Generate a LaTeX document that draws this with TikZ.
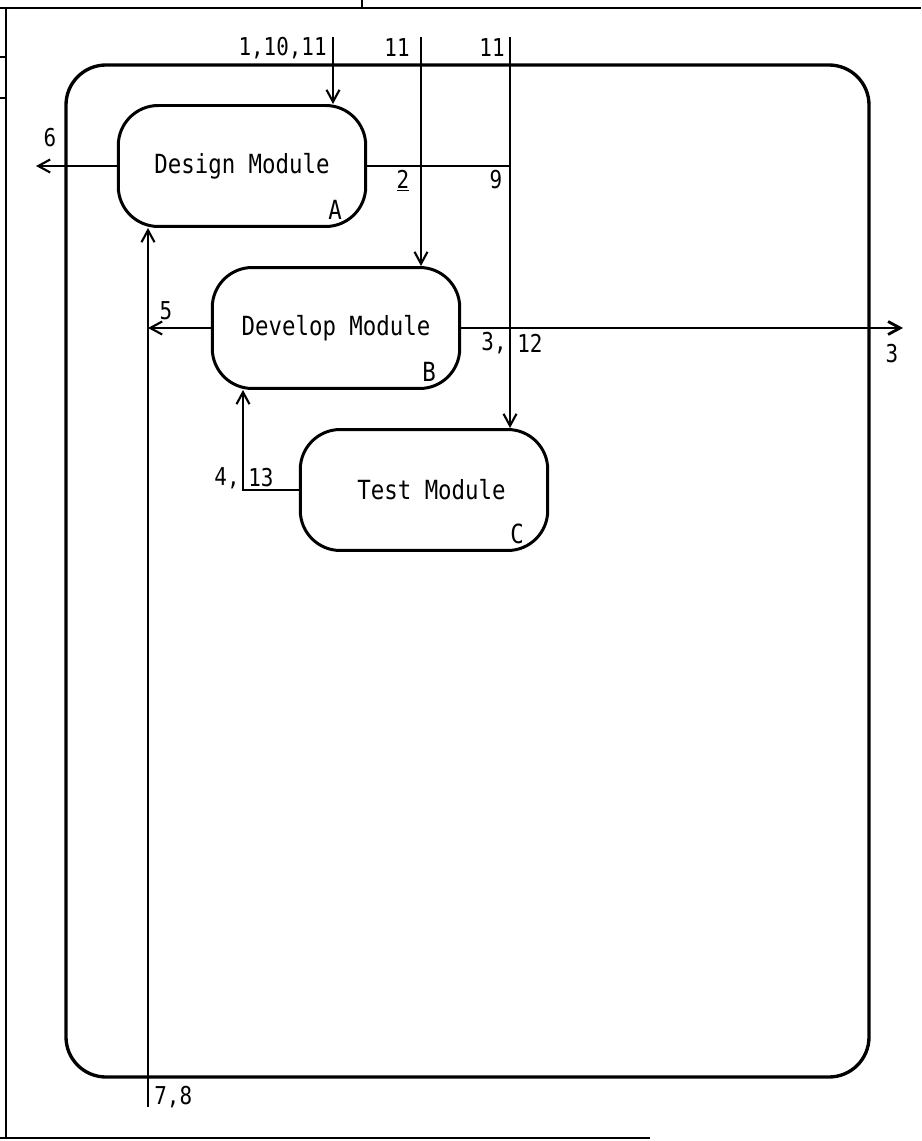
\documentclass[tikz,border=0pt]{standalone}
\usepackage{fontspec}
\newfontfamily\modfont[FakeStretch=0.85]{DejaVu Sans Mono}
\usetikzlibrary{arrows.meta}

\tikzset{
  module/.style={draw, line width=1.7pt, rounded corners=0.8cm, minimum width=4.95cm,
                 minimum height=2.42cm, font=\modfont\fontsize{15}{17}\selectfont},
  flow/.style={line width=1.2pt, -{Straight Barb[length=2.4mm, width=2.6mm]}},
  conn/.style={line width=1.2pt},
  lbl/.style={font=\modfont\fontsize{14}{16}\selectfont, inner sep=0pt},
  tag/.style={font=\modfont\fontsize{15}{17}\selectfont, inner sep=0pt}
}

\begin{document}
\begin{tikzpicture}[x=0.02cm, y=-0.02cm]
\useasboundingbox (0,0) rectangle (921,1141);

% === Form border ===
\draw[line width=1.2pt] (0,8) -- (921,8);
\draw[line width=1.2pt] (6,8) -- (6,1138);
\draw[line width=1.2pt] (0,1138) -- (650,1138);
\draw[line width=1.2pt] (362,0) -- (362,8);
\draw[line width=1.2pt] (0,57) -- (6,57);
\draw[line width=1.2pt] (0,98) -- (6,98);

% === System boundary ===
\draw[line width=1.9pt, rounded corners=0.8cm] (66,65) rectangle (869,1077);

% === Modules ===
\node[module] (A) at (242,166) {Design Module};
\node[module] (B) at (336,328) {Develop Module};
\node[module] (C) at (424,490) {\hspace{0.3cm}Test Module};
\node[tag] (tA) at ([shift={(-32,-18)}]A.south east) {A};
\node[tag] (tB) at ([shift={(-32,-18)}]B.south east) {B};
\node[tag] (tC) at ([shift={(-32,-18)}]C.south east) {C};

% free ends
\coordinate (in1) at (333,37);
\coordinate (in2) at (421,37);
\coordinate (in3) at (510,37);
\coordinate (out6) at (36,167);
\coordinate (in78) at (148,1107);
\coordinate (out3) at (903,333);
\coordinate (ret) at (243,0);

% === Connectors ===
\draw[flow] (in1) -- (in1 |- A.north);
\draw[flow] (in2) -- (in2 |- B.north);
\draw[flow] (in3) -- (in3 |- C.north);
\draw[conn] (A.east) -- (A.east -| in3);
\draw[flow] (A.west) -- (A.west -| out6);
\draw[flow] (in78) -- (in78 |- A.south);
\draw[flow] (B.west) -- (B.west -| in78);
\draw[flow, line width=1.6pt] (B.east) -- (B.east -| out3);
\draw[flow] (C.west) -| (ret |- B.south);

% === Flow numbers ===
\node[lbl, anchor=east] (n1) at (327,48) {1,10,11};
\node[lbl, anchor=east] (n2) at (410,48) {11};
\node[lbl, anchor=east] (n3) at (505,48) {11};
\node[lbl] (n6) at (50,138) {6};
\node[lbl] (n2a) at (403,181) {\underline{2}};
\node[lbl] (n9) at (496,180) {9};
\node[lbl] (n5) at (166,311) {5};
\node[lbl, anchor=east] (n3a) at (507,343) {3,};
\node[lbl, anchor=west] (n12) at (517,343) {12};
\node[lbl] (n3b) at (892,354) {3};
\node[lbl, anchor=east] (n4) at (240,478) {4,};
\node[lbl, anchor=west] (n13) at (248,478) {13};
\node[lbl, anchor=west] (n78) at (154,1097) {7,8};

\end{tikzpicture}
\end{document}
